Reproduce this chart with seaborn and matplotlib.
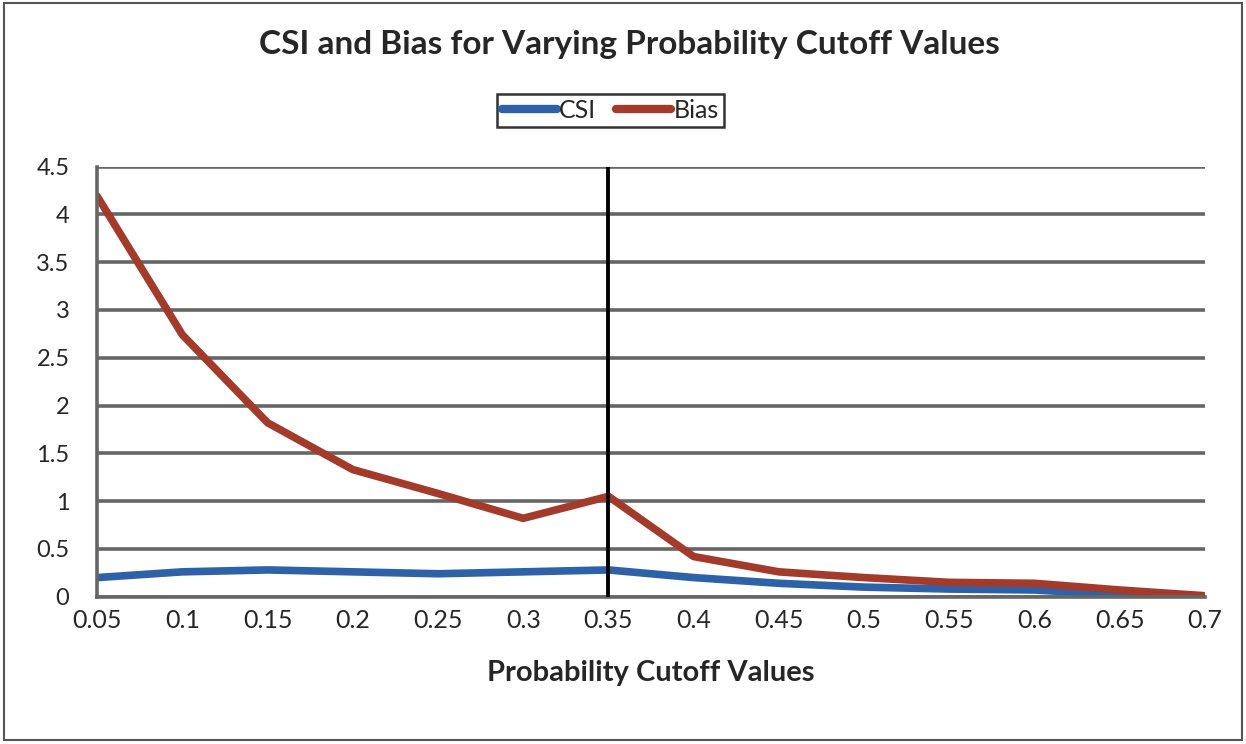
import matplotlib
matplotlib.use("Agg")
import matplotlib.pyplot as plt
import seaborn as sns
import pandas as pd
from matplotlib.patches import Rectangle
from matplotlib.lines import Line2D

cutoffs = [0.05, 0.1, 0.15, 0.2, 0.25, 0.3, 0.35, 0.4, 0.45, 0.5, 0.55, 0.6, 0.65, 0.7]
csi = [0.20, 0.26, 0.28, 0.26, 0.24, 0.26, 0.28, 0.20, 0.14, 0.10, 0.08, 0.07, 0.02, 0.00]
bias = [4.19, 2.74, 1.82, 1.33, 1.08, 0.82, 1.05, 0.42, 0.26, 0.20, 0.15, 0.14, 0.07, 0.01]
tick_labels = ["0.05", "0.1", "0.15", "0.2", "0.25", "0.3", "0.35", "0.4", "0.45", "0.5", "0.55", "0.6", "0.65", "0.7"]
y_ticks = [0, 0.5, 1, 1.5, 2, 2.5, 3, 3.5, 4, 4.5]
y_labels = ["0", "0.5", "1", "1.5", "2", "2.5", "3", "3.5", "4", "4.5"]

df = pd.DataFrame({"x": cutoffs * 2, "value": csi + bias,
                   "series": ["CSI"] * len(cutoffs) + ["Bias"] * len(cutoffs)})

sns.set_style("white")
plt.rcParams['font.family'] = ['Lato', 'DejaVu Sans']

fig = plt.figure(figsize=(12.46, 7.44), dpi=100)
ax = fig.add_axes([0.078, 0.198, 0.889, 0.578])

sns.lineplot(data=df, x="x", y="value", hue="series",
             palette={"CSI": "#2e62a8", "Bias": "#a33a2a"}, linewidth=5.5, ax=ax, legend=False)

for yv in y_ticks:
    ax.axhline(yv, color="#666666", linewidth=2.6, zorder=0)
ax.axvline(0.35, color="black", linewidth=2.8, zorder=3)

ax.set_xlim(0.05, 0.7)
ax.set_ylim(0, 4.5)
ax.set_xticks(cutoffs)
ax.set_xticklabels(tick_labels, fontsize=18)
ax.set_yticks(y_ticks)
ax.set_yticklabels(y_labels, fontsize=17)
ax.tick_params(axis="x", length=7, width=2, color="#666666", direction="out", pad=2)
ax.tick_params(axis="y", length=14, width=2, color="#666666", direction="out", pad=6)
for s in ["top", "right"]:
    ax.spines[s].set_visible(False)
for s in ["left", "bottom"]:
    ax.spines[s].set_color("#666666")
    ax.spines[s].set_linewidth(2.6)
ax.set_xlabel("Probability Cutoff Values", fontsize=21, fontweight="bold", labelpad=20)
ax.set_ylabel("")

fig.text(0.505, 0.94, "CSI and Bias for Varying Probability Cutoff Values", ha="center", va="center",
         fontsize=24, fontweight="bold")

handles = [Line2D([0], [0], color="#2e62a8", lw=6), Line2D([0], [0], color="#a33a2a", lw=6)]
leg = fig.legend(handles, ["CSI", "Bias"], loc="center", bbox_to_anchor=(0.49, 0.852), ncol=2,
                 frameon=True, fontsize=18, handlelength=2.2, handletextpad=0.1, columnspacing=0.8,
                 borderpad=0.2, fancybox=False)
leg.get_frame().set_edgecolor("black")
leg.get_frame().set_linewidth(1.8)

fig.patches.append(Rectangle((0.003, 0.006), 0.994, 0.99, transform=fig.transFigure, fill=False,
                             edgecolor="#555555", linewidth=1.5))

fig.savefig("out.png", dpi=100)
